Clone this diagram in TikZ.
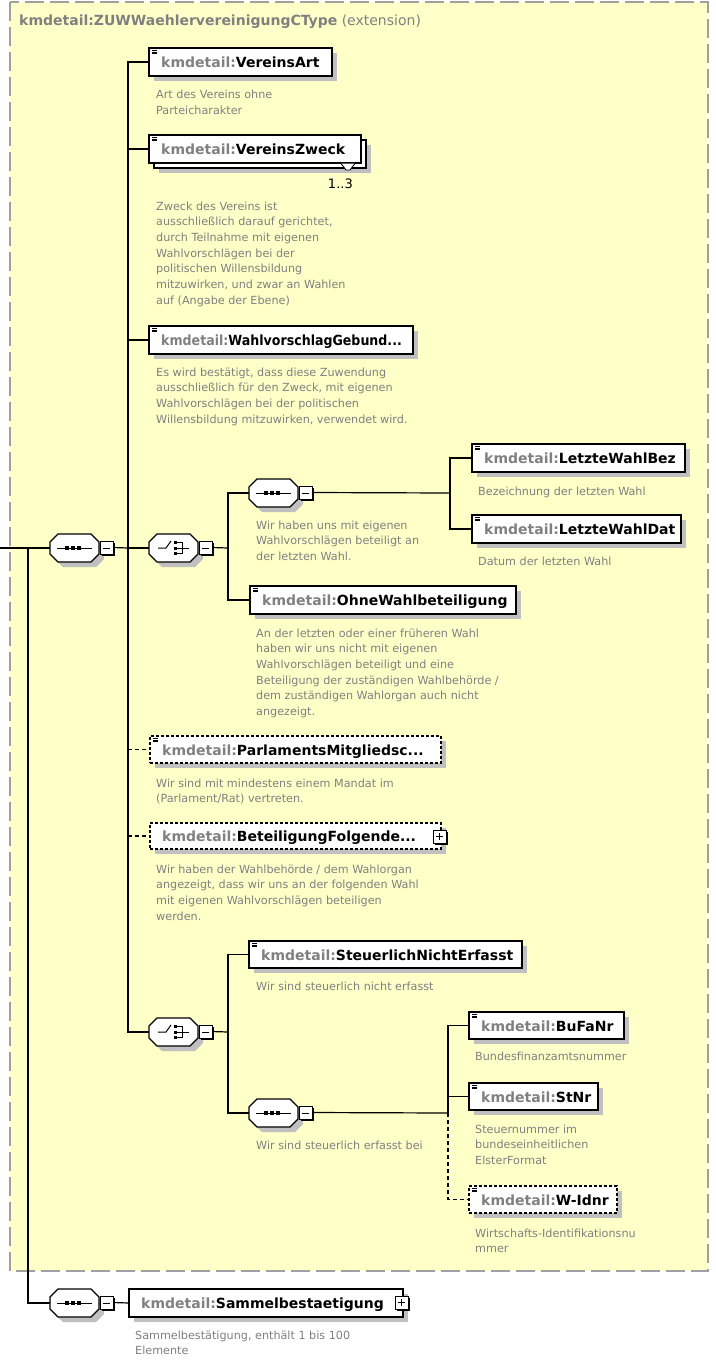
\documentclass[tikz,border=0pt]{standalone}
\usepackage{fontspec}
\setmainfont{DejaVu Sans}
\definecolor{bgyellow}{RGB}{255,255,200}
\definecolor{pfx}{RGB}{128,128,128}
\definecolor{descc}{RGB}{128,128,128}
\definecolor{shadowc}{RGB}{192,192,192}
\definecolor{borderc}{RGB}{160,160,160}
\tikzset{
  conn/.style={line width=1.2pt, draw=black},
  connd/.style={line width=1.2pt, draw=black, dash pattern=on 4pt off 3pt},
  elembox/.style={draw=black, line width=1.3pt, fill=white, inner sep=0pt, outer sep=0pt},
  dashbox/.style={dash pattern=on 3pt off 2pt},
  lbl/.style={inner sep=0pt, font=\fontsize{14}{16}\selectfont\bfseries, text=black},
  descr/.style={inner sep=0pt, align=left, text=descc, font=\fontsize{11.2}{15.7}\selectfont},
  hexline/.style={draw=black, line width=1.1pt, fill=white},
  minusbox/.style={draw=black, line width=0.8pt, fill=white, minimum size=13pt, inner sep=0pt, outer sep=0pt},
}
\newcommand\elshadow[4]{\fill[shadowc] (#1+5,#2+5) rectangle ++(#3,#4);}
\newcommand\elbox[7]{%
  \node[elembox,#6,minimum width=#4pt,minimum height=#5pt,anchor=north west] (#1) at (#2,#3) {};
  \node[lbl,anchor=base west] (#1-t) at ([xshift=12pt,yshift=-5.5pt]#1.west) {#7};
}
\newcommand\pf{\textcolor{pfx}{kmdetail:}}
\newcommand\elicon[1]{%
  \foreach \k in {2,3.9,5.8} \draw[line width=0.8pt] ([xshift=3pt,yshift=-\k pt]#1.north west) -- ++(5pt,0pt);
}
\newcommand\plusbox[3]{%
  \fill[black] (#2+1.5,#3+1.5) rectangle ++(13,13);
  \node[minusbox,anchor=north west] (#1) at (#2,#3) {};
  \draw[line width=1pt] (#2+3,#3+6.5) -- (#2+10,#3+6.5) (#2+6.5,#3+3) -- (#2+6.5,#3+10);
}
\newcommand\compo[3]{%
  \begin{scope}[shift={(#2,#3)}]
    \fill[shadowc] (13,-9) -- (46,-9) -- (54,-1) -- (54,11) -- (46,19) -- (13,19) -- (5,11) -- (5,-1) -- cycle;
    \draw[hexline] (8,-14) -- (41,-14) -- (49,-6) -- (49,6) -- (41,14) -- (8,14) -- (0,6) -- (0,-6) -- cycle;
    \fill[black] (51.5,-5.5) rectangle (64.5,7.5);
  \end{scope}
  \node[inner sep=0pt, outer sep=0pt, minimum width=49pt, minimum height=28pt, anchor=west] (#1) at (#2,#3) {};
  \node[minusbox,anchor=north west] (#1-m) at (#2+50,#3-7) {};
  \draw[line width=1pt] (#2+53,#3) -- (#2+60,#3);
}
\newcommand\seqicon[2]{%
  \draw[line width=1pt] (#1+7,#2) -- (#1+42,#2);
  \foreach \d in {15,21,27} \fill ({#1+\d},{#2-1.8}) rectangle ++(3.6,3.6);
}
\newcommand\choicon[2]{%
  \draw[line width=1pt] (#1+9,#2) -- (#1+17,#2) -- (#1+22,#2-7);
  \foreach \d in {-5.5,0,5.5} \fill ({#1+24.5},{#2+(\d)-1.5}) rectangle ++(3,3);
  \draw[line width=1pt] (#1+28,#2-5.5) -- (#1+33,#2-5.5) -- (#1+33,#2+5.5) -- (#1+28,#2+5.5) (#1+28,#2) -- (#1+40,#2);
}
\newcommand\desc[4]{\node[descr,anchor=north west] (#1) at (#2,#3-8.6) {#4};}
\begin{document}
\begin{tikzpicture}[x=1pt,y=-1pt]
\useasboundingbox (0,0) rectangle (715,1360);
\fill[white] (0,0) rectangle (715,1360);
\draw[draw=borderc, line width=1.5pt, dash pattern=on 19pt off 6pt, fill=bgyellow] (10,2) rectangle (708,1271);
\node[anchor=base west, inner sep=0pt, text=pfx, font=\fontsize{14}{16}\selectfont] (title) at (19,25) {\textbf{kmdetail:ZUWWaehlervereinigungCType} (extension)};

% compositors
\compo{s0}{50}{548}\seqicon{50}{548}
\compo{c1}{149}{548}\choicon{149}{548}
\compo{s2}{249}{493}\seqicon{249}{493}
\compo{c2}{149}{1032}\choicon{149}{1032}
\compo{s3}{249}{1113}\seqicon{249}{1113}
\compo{sB}{50}{1303}\seqicon{50}{1303}

% elements
\elshadow{149}{48}{183}{28}
\elbox{e1}{149}{48}{183}{28}{solid}{\pf VereinsArt}\elicon{e1}

\elshadow{154}{140}{212}{28}
\node[elembox,minimum width=212pt,minimum height=28pt,anchor=north west] (e2b) at (154,140) {};
\elbox{e2}{149}{135}{212}{28}{solid}{\pf VereinsZweck}\elicon{e2}
\draw[line width=0.9pt, fill=white] (341,163.5) -- (346,170) -- (350,170) -- (355,163.5);
\node[anchor=base east, inner sep=0pt, font=\fontsize{13}{15}\selectfont] (mult) at (353,188) {1..3};

\elshadow{149}{326}{264}{28}
\elbox{e3}{149}{326}{264}{28}{solid}{\scalebox{0.9}[1]{\pf WahlvorschlagGebund...}}\elicon{e3}

\elshadow{472}{444}{213}{28}
\elbox{e4}{472}{444}{213}{28}{solid}{\pf LetzteWahlBez}\elicon{e4}

\elshadow{472}{515}{209}{28}
\elbox{e5}{472}{515}{209}{28}{solid}{\pf LetzteWahlDat}\elicon{e5}

\elshadow{250}{586}{266}{28}
\elbox{e6}{250}{586}{266}{28}{solid}{\pf OhneWahlbeteiligung}\elicon{e6}

\elshadow{150}{736}{291}{27}
\elbox{e7}{150}{736}{291}{27}{dashbox}{\pf ParlamentsMitgliedsc...}\elicon{e7}

\elshadow{150}{823}{291}{26}
\elbox{e8}{150}{823}{291}{26}{dashbox}{\pf BeteiligungFolgende...}
\plusbox{e8-p}{433}{830}

\elshadow{249}{941}{273}{27}
\elbox{e9}{249}{941}{273}{27}{solid}{\pf SteuerlichNichtErfasst}\elicon{e9}

\elshadow{469}{1012}{155}{27}
\elbox{e10}{469}{1012}{155}{27}{solid}{\pf BuFaNr}\elicon{e10}

\elshadow{469}{1083}{129}{27}
\elbox{e11}{469}{1083}{129}{27}{solid}{\pf StNr}\elicon{e11}

\elshadow{469}{1186}{148}{27}
\elbox{e12}{469}{1186}{148}{27}{dashbox}{\pf W-Idnr}\elicon{e12}

\elshadow{129}{1289}{274}{28}
\elbox{e13}{129}{1289}{274}{28}{solid}{\pf Sammelbestaetigung}
\plusbox{e13-p}{395}{1296}

% descriptions
\desc{d1}{156}{98.5}{Art des Vereins ohne\\Parteicharakter}
\desc{d2}{156}{210}{Zweck des Vereins ist\\ausschließlich darauf gerichtet,\\durch Teilnahme mit eigenen\\Wahlvorschlägen bei der\\politischen Willensbildung\\mitzuwirken, und zwar an Wahlen\\auf (Angabe der Ebene)}
\desc{d3}{156}{376}{Es wird bestätigt, dass diese Zuwendung\\ausschließlich für den Zweck, mit eigenen\\Wahlvorschlägen bei der politischen\\Willensbildung mitzuwirken, verwendet wird.}
\desc{d4}{256}{529}{Wir haben uns mit eigenen\\Wahlvorschlägen beteiligt an\\der letzten Wahl.}
\desc{d5}{478}{495}{Bezeichnung der letzten Wahl}
\desc{d6}{478}{565}{Datum der letzten Wahl}
\desc{d7}{256}{637}{An der letzten oder einer früheren Wahl\\haben wir uns nicht mit eigenen\\Wahlvorschlägen beteiligt und eine\\Beteiligung der zuständigen Wahlbehörde /\\dem zuständigen Wahlorgan auch nicht\\angezeigt.}
\desc{d8}{156}{787}{Wir sind mit mindestens einem Mandat im\\(Parlament/Rat) vertreten.}
\desc{d9}{156}{873}{Wir haben der Wahlbehörde / dem Wahlorgan\\angezeigt, dass wir uns an der folgenden Wahl\\mit eigenen Wahlvorschlägen beteiligen\\werden.}
\desc{d10}{256}{990}{Wir sind steuerlich nicht erfasst}
\desc{d11}{256}{1149}{Wir sind steuerlich erfasst bei}
\desc{d12}{475}{1060}{Bundesfinanzamtsnummer}
\desc{d13}{475}{1133}{Steuernummer im\\bundeseinheitlichen\\ElsterFormat}
\desc{d14}{475}{1237}{Wirtschafts-Identifikationsnu\\mmer}
\desc{d15}{135}{1339}{Sammelbestätigung, enthält 1 bis 100\\Elemente}

% junctions
\coordinate (start) at (0,548);
\coordinate (jA) at (28,548);
\coordinate (j1) at (128,548);
\coordinate (j2) at (228,548);
\coordinate (j3) at (450,493);
\coordinate (j4) at (228,1032);
\coordinate (j5) at (448,1113);

% connectors
\draw[conn] (start) -- (s0.west);
\draw[conn] (jA) |- (sB.west);
\draw[conn] (s0-m.east) -- (j1);
\draw[conn] (j1) |- (e1.west);
\draw[conn] (j1) |- (e2.west);
\draw[conn] (j1) |- (e3.west);
\draw[conn] (j1) -- (c1.west);
\draw[conn] (j1) |- (c2.west);
\draw[connd] (j1 |- e7.west) -- (e7.west);
\draw[connd] (j1 |- e8.west) -- (e8.west);
\draw[conn] (c1-m.east) -- (j2);
\draw[conn] (j2) |- (s2.west);
\draw[conn] (j2) |- (e6.west);
\draw[conn] (s2-m.east) -- (j3);
\draw[conn] (j3) |- (e4.west);
\draw[conn] (j3) |- (e5.west);
\draw[conn] (c2-m.east) -- (j4);
\draw[conn] (j4) |- (e9.west);
\draw[conn] (j4) |- (s3.west);
\draw[conn] (s3-m.east) -- (j5);
\draw[conn] (j5) |- (e10.west);
\draw[conn] (j5) |- (e11.west);
\draw[connd] (j5) |- (e12.west);
\draw[conn] (sB-m.east) -- (e13.west);
\end{tikzpicture}
\end{document}
